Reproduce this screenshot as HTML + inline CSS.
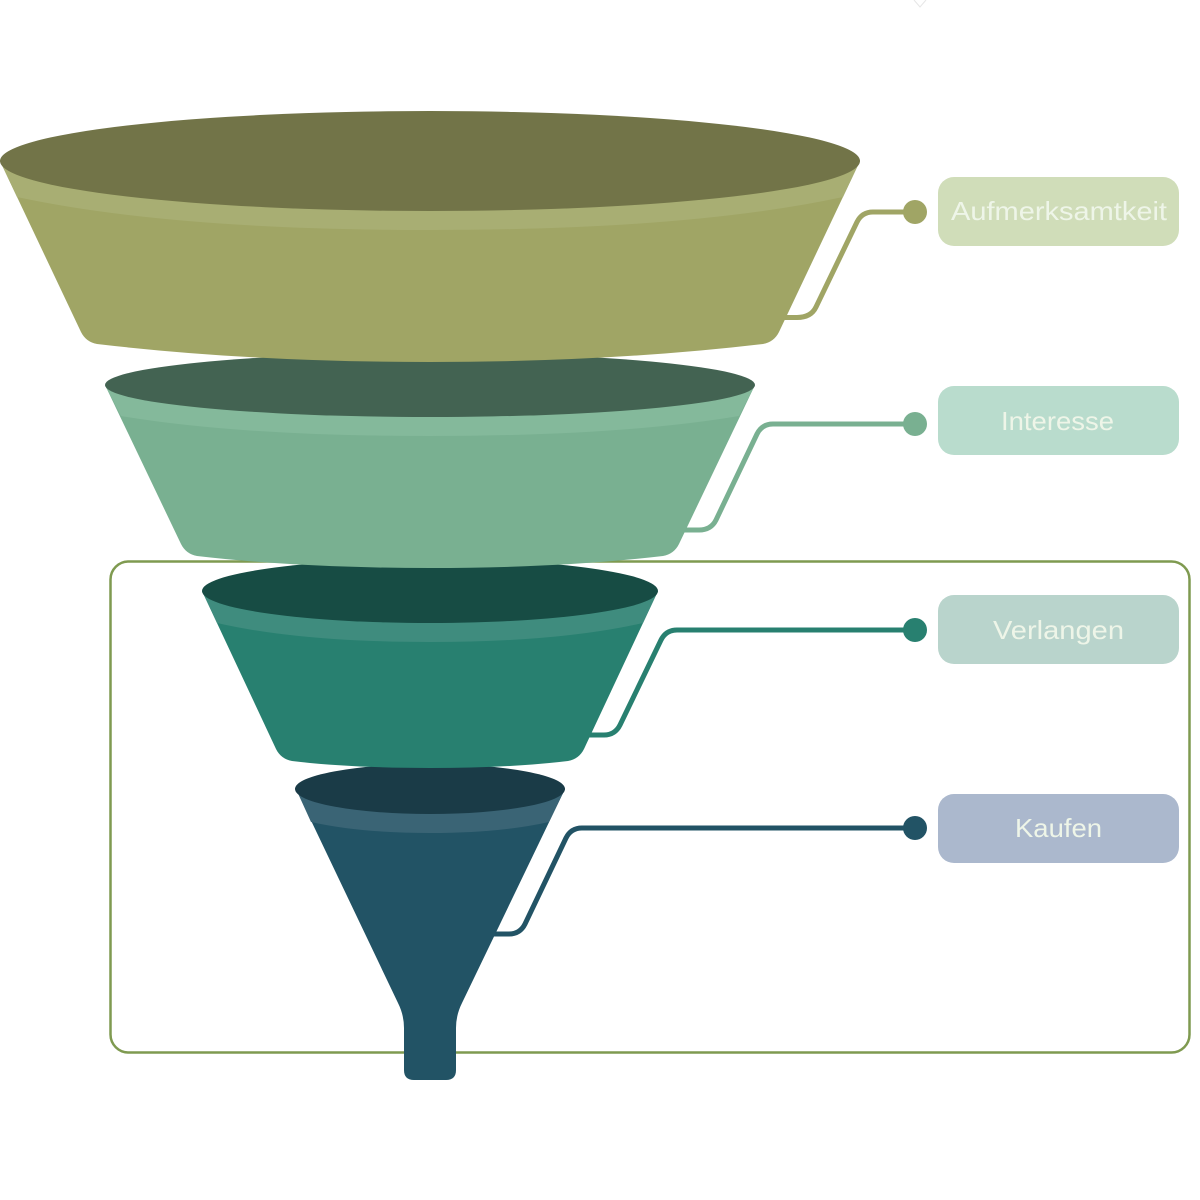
<!DOCTYPE html>
<html><head><meta charset="utf-8"><style>html,body{margin:0;padding:0;background:#fff}svg{display:block}text{font-family:"Liberation Sans",sans-serif;font-size:26px;fill:#eef5e8;text-anchor:start}</style></head><body>
<svg xmlns="http://www.w3.org/2000/svg" width="1200" height="1200" viewBox="0 0 1200 1200">
<rect width="1200" height="1200" fill="#fff"/>
<path d="M914 0l6 7 6-7" fill="none" stroke="#e6e6e6" stroke-width="1"/>
<rect x="110.5" y="561.5" width="1079" height="491" rx="18" fill="none" stroke="#7f9a50" stroke-width="2.5"/>
<g fill="none" stroke-width="5">
<path d="M780 317.500H797Q811 317.500 816 307L857 222Q862 212 873 212H915" stroke="#a0a565"/>
<path d="M680 530H699Q711 530 716 520L757 434Q762 424 773 424H915" stroke="#79b091"/>
<path d="M585 735H604Q615 735 620 725L661 640Q666 630 677 630H915" stroke="#288070"/>
<path d="M490 934H509Q520 934 525 924L566 838Q571 828 582 828H915" stroke="#225365"/>
</g>
<circle cx="915" cy="212" r="12" fill="#a0a565"/>
<circle cx="915" cy="424" r="12" fill="#79b091"/>
<circle cx="915" cy="630" r="12" fill="#288070"/>
<circle cx="915" cy="828" r="12" fill="#225365"/>

<path d="M296 789L398 1003Q404 1015 404 1028V1070Q404 1080 414 1080H446Q456 1080 456 1070V1028Q456 1015 462 1003L565 789Z" fill="#225365"/>
<path d="M296 789L311 822Q360 833 430 833Q500 833 549 822L565 789Z" fill="#3a6475"/>
<ellipse cx="430" cy="789" rx="135" ry="25" fill="#1a3b47"/>

<path d="M202 591L276 749Q281 759 292 761Q350 768 430 768Q510 768 568 761Q579 759 584 749L658 591Z" fill="#288070"/>
<path d="M202 591L217 623Q300 642 430 642Q560 642 643 623L658 591Z" fill="#3f8c7e"/>
<ellipse cx="430" cy="591" rx="228" ry="32" fill="#174c44"/>

<path d="M105 385L181 544Q186 554 197 556Q300 568 430 568Q560 568 663 556Q674 554 679 544L755 385Z" fill="#79b091"/>
<path d="M105 385L121 416Q240 436 430 436Q620 436 739 416L755 385Z" fill="#84b99b"/>
<ellipse cx="430" cy="385" rx="325" ry="32" fill="#436352"/>

<path d="M0 161L81 332Q86 342 97 344Q250 362 430 362Q610 362 763 344Q774 342 779 332L860 161Z" fill="#a0a565"/>
<path d="M0 161L17 197Q170 230 430 230Q690 230 843 197L860 161Z" fill="#a8ae73"/>
<ellipse cx="430" cy="161" rx="430" ry="50" fill="#727448"/>

<rect x="938" y="177" width="241" height="69" rx="16" fill="#d0ddb9"/>
<rect x="938" y="386" width="241" height="69" rx="16" fill="#b9dccd"/>
<rect x="938" y="595" width="241" height="69" rx="16" fill="#b9d4cc"/>
<rect x="938" y="794" width="241" height="69" rx="16" fill="#abb8cd"/>
<text x="951" y="220" textLength="216" lengthAdjust="spacingAndGlyphs">Aufmerksamtkeit</text>
<text x="1001" y="430" textLength="113" lengthAdjust="spacingAndGlyphs">Interesse</text>
<text x="993" y="639" textLength="131" lengthAdjust="spacingAndGlyphs">Verlangen</text>
<text x="1015" y="837" textLength="87" lengthAdjust="spacingAndGlyphs">Kaufen</text>
</svg>
</body></html>
